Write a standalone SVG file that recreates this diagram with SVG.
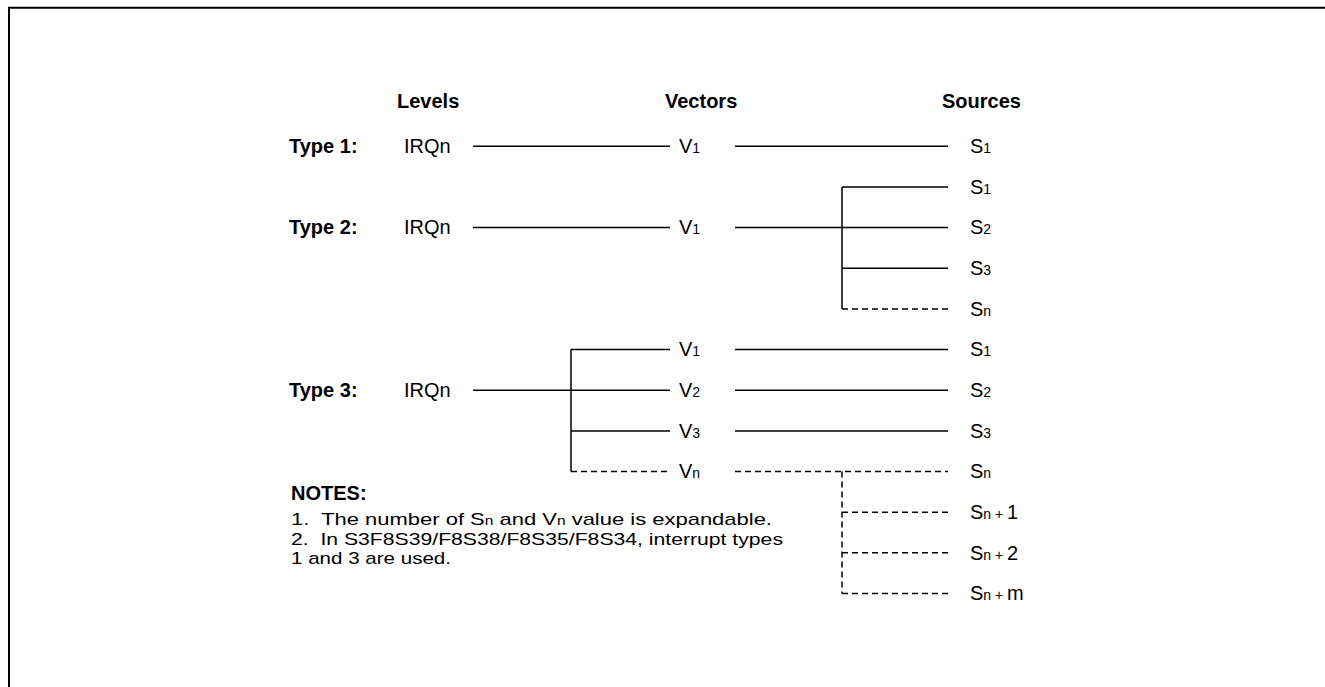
<svg xmlns="http://www.w3.org/2000/svg" width="1325" height="687" viewBox="0 0 1325 687">
<style>
text{font-family:"Liberation Sans",Arial,sans-serif;font-size:20px;fill:#000}
.b{font-weight:bold}
.s{font-size:14px}
.note{font-size:17px}
.ns{font-size:12px}
.ln{stroke:#000;stroke-width:1.5;fill:none}
.d{stroke-dasharray:6 4}
</style>
<rect width="1325" height="687" fill="#fff"/>
<path d="M9 687V7.7H1325" stroke="#000" stroke-width="2" fill="none"/>
<g id="headers">
<text class="b" x="397" y="108">Levels</text>
<text class="b" x="665" y="108">Vectors</text>
<text class="b" x="942" y="108">Sources</text>
</g>
<g id="type1">
<text class="b" x="289" y="153">Type 1:</text>
<text x="404" y="153">IRQn</text>
<text x="679" y="153">V<tspan class="s">1</tspan></text>
<text x="970" y="153">S<tspan class="s">1</tspan></text>
</g>
<g id="type2">
<text class="b" x="289" y="234">Type 2:</text>
<text x="404" y="234">IRQn</text>
<text x="679" y="234">V<tspan class="s">1</tspan></text>
<text x="970" y="193.5">S<tspan class="s">1</tspan></text>
<text x="970" y="234">S<tspan class="s">2</tspan></text>
<text x="970" y="275">S<tspan class="s">3</tspan></text>
<text x="970" y="315.5">S<tspan class="s">n</tspan></text>
</g>
<g id="type3">
<text class="b" x="289" y="397">Type 3:</text>
<text x="404" y="397">IRQn</text>
<text x="679" y="356">V<tspan class="s">1</tspan></text>
<text x="679" y="397">V<tspan class="s">2</tspan></text>
<text x="679" y="437.5">V<tspan class="s">3</tspan></text>
<text x="679" y="478">V<tspan class="s">n</tspan></text>
<text x="970" y="356">S<tspan class="s">1</tspan></text>
<text x="970" y="397">S<tspan class="s">2</tspan></text>
<text x="970" y="437.5">S<tspan class="s">3</tspan></text>
<text x="970" y="478">S<tspan class="s">n</tspan></text>
<text x="970" y="519" xml:space="preserve">S<tspan class="s">n + </tspan>1</text>
<text x="970" y="559.5" xml:space="preserve">S<tspan class="s">n + </tspan>2</text>
<text x="970" y="600" xml:space="preserve">S<tspan class="s">n + </tspan>m</text>
</g>
<g id="notes">
<text class="b" x="291" y="500">NOTES:</text>
<text class="note" x="291" y="525" textLength="481" lengthAdjust="spacingAndGlyphs" xml:space="preserve">1.  The number of S<tspan class="ns">n</tspan> and V<tspan class="ns">n</tspan> value is expandable.</text>
<text class="note" x="291" y="544.5" textLength="492" lengthAdjust="spacingAndGlyphs" xml:space="preserve">2.  In S3F8S39/F8S38/F8S35/F8S34, interrupt types</text>
<text class="note" x="291" y="564" textLength="160" lengthAdjust="spacingAndGlyphs">1 and 3 are used.</text>
</g>
<g id="connectors">
<path class="ln" d="M473 146.3H670M735 146.3H948"/>
<path class="ln" d="M473 227.6H670M735 227.6H948M842 187V308.9M842 187H948M842 268.3H948"/>
<path class="ln d" d="M842 308.9H948"/>
<path class="ln" d="M473 390.2H670M571 349.6V471.5M571 349.6H670M571 430.9H670M735 349.6H948M735 390.2H948M735 430.9H948"/>
<path class="ln d" d="M571 471.5H670M735 471.5H948M842 471.5V593.5M842 512.2H948M842 552.8H948M842 593.5H948"/>
</g>
</svg>
